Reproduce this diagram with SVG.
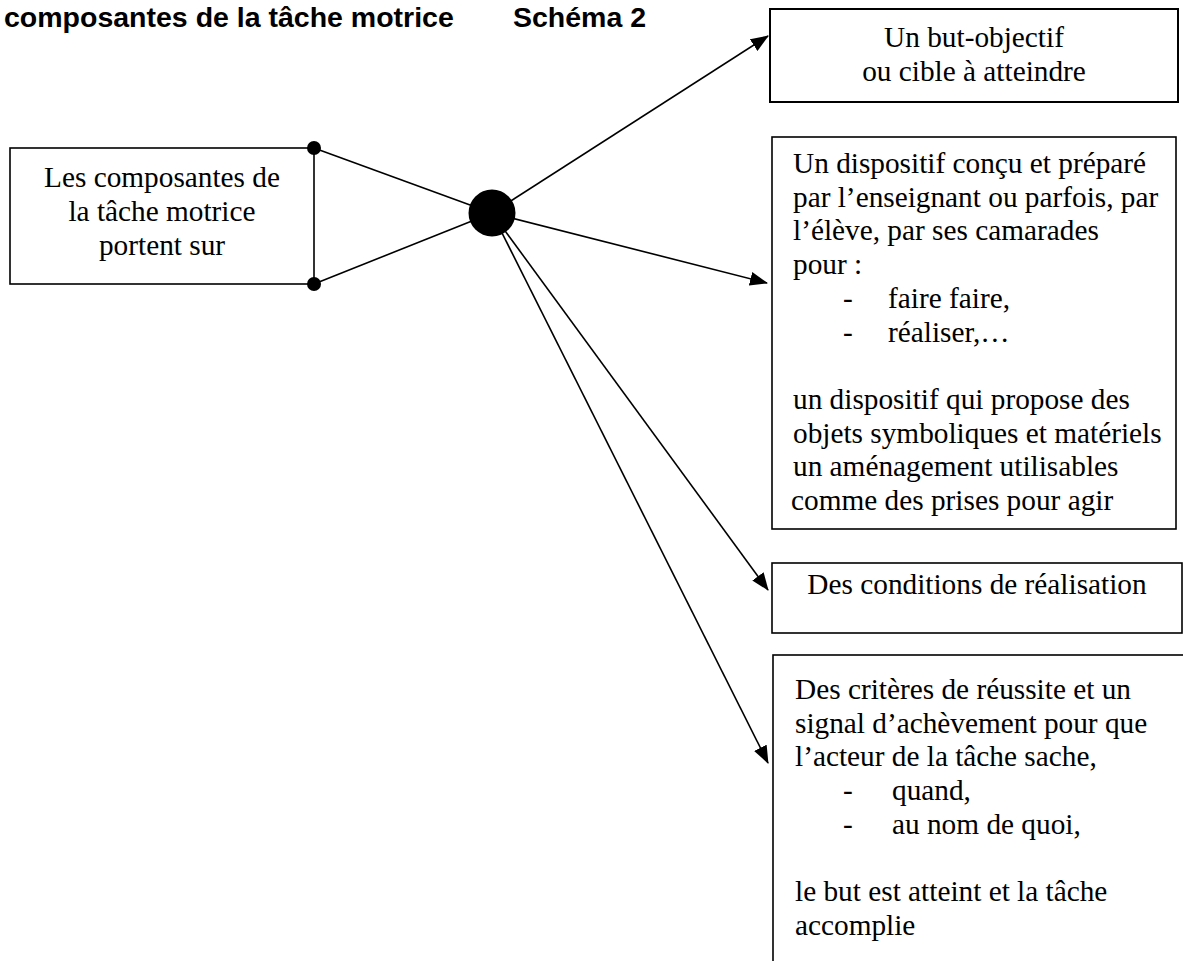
<svg xmlns="http://www.w3.org/2000/svg" width="1183" height="961" viewBox="0 0 1183 961">
<style>
.box{fill:#fff;stroke:#000;stroke-width:1.6}
.t{font-family:"Liberation Serif","Times New Roman",serif;font-size:29.3px;fill:#000}
.c{text-anchor:middle}
.title{font-family:"Liberation Sans",Arial,sans-serif;font-size:28.5px;font-weight:bold;fill:#000}
.ln{stroke:#000;stroke-width:1.6;fill:none}
</style>
<defs>
<marker id="ah" markerWidth="18" markerHeight="14" refX="17" refY="7" orient="auto" markerUnits="userSpaceOnUse">
<path d="M0,0 L18,7 L0,14 Z" fill="#000"/>
</marker>
</defs>
<g id="title">
<text class="title" x="4" y="27">composantes de la tâche motrice</text>
<text class="title" x="513" y="27">Schéma 2</text>
</g>
<g id="connectors">
<line class="ln" x1="314" y1="148" x2="492" y2="213"/>
<line class="ln" x1="314" y1="284" x2="492" y2="213"/>
<line class="ln" x1="492" y1="213" x2="768" y2="36" marker-end="url(#ah)"/>
<line class="ln" x1="492" y1="213" x2="767" y2="283" marker-end="url(#ah)"/>
<line class="ln" x1="492" y1="213" x2="768" y2="590" marker-end="url(#ah)"/>
<line class="ln" x1="492" y1="213" x2="768" y2="763" marker-end="url(#ah)"/>
</g>
<g id="source">
<rect class="box" x="10" y="148" width="304" height="136"/>
<text class="t c" x="162" y="187">Les composantes de</text>
<text class="t c" x="162" y="221">la tâche motrice</text>
<text class="t c" x="162" y="255">portent sur</text>
<circle cx="314" cy="148" r="7" fill="#000"/>
<circle cx="314" cy="284" r="7" fill="#000"/>
</g>
<g id="hub">
<circle cx="492" cy="213" r="23.5" fill="#000"/>
</g>
<g id="but">
<rect class="box" x="770" y="9" width="408" height="93" style="stroke-width:2"/>
<text class="t c" x="974" y="47">Un but-objectif</text>
<text class="t c" x="974" y="81">ou cible à atteindre</text>
</g>
<g id="dispositif">
<rect class="box" x="772" y="137" width="404" height="392"/>
<text class="t" x="793" y="173">Un dispositif conçu et préparé</text>
<text class="t" x="793" y="207">par l’enseignant ou parfois, par</text>
<text class="t" x="793" y="240">l’élève, par ses camarades</text>
<text class="t" x="793" y="274">pour :</text>
<text class="t" x="843" y="308">-</text>
<text class="t" x="888" y="308">faire faire,</text>
<text class="t" x="843" y="342">-</text>
<text class="t" x="888" y="342">réaliser,…</text>
<text class="t" x="793" y="409">un dispositif qui propose des</text>
<text class="t" x="793" y="443">objets symboliques et matériels</text>
<text class="t" x="793" y="476">un aménagement utilisables</text>
<text class="t" x="791" y="510">comme des prises pour agir</text>
</g>
<g id="conditions">
<rect class="box" x="772" y="563" width="410" height="70"/>
<text class="t c" x="977" y="594">Des conditions de réalisation</text>
</g>
<g id="criteres">
<rect class="box" x="773" y="655" width="420" height="320"/>
<text class="t" x="795" y="699">Des critères de réussite et un</text>
<text class="t" x="795" y="733">signal d’achèvement pour que</text>
<text class="t" x="795" y="766">l’acteur de la tâche sache,</text>
<text class="t" x="843" y="800">-</text>
<text class="t" x="892" y="800">quand,</text>
<text class="t" x="843" y="834">-</text>
<text class="t" x="892" y="834">au nom de quoi,</text>
<text class="t" x="795" y="901">le but est atteint et la tâche</text>
<text class="t" x="795" y="935">accomplie</text>
</g>
</svg>
